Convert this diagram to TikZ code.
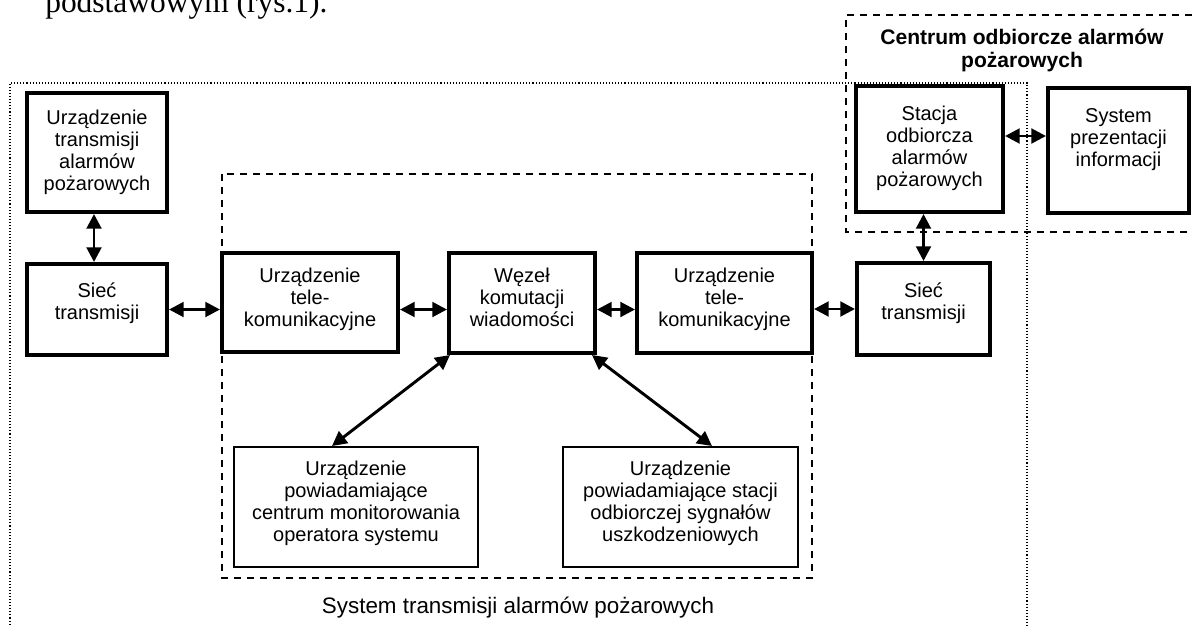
\documentclass[tikz,border=0pt]{standalone}
\usepackage{fontspec}
\setmainfont{Liberation Sans}
\newfontfamily\serifx{Liberation Serif}
\usetikzlibrary{arrows.meta,fit,calc}
\begin{document}
\begin{tikzpicture}[x=0.75pt,y=-0.75pt,
  every node/.style={font=\fontsize{15}{16.5}\selectfont},
  tbox/.style={draw, line width=3pt, inner sep=0pt},
  nbox/.style={draw, line width=1.5pt, inner sep=0pt},
  lbl/.style={align=center, anchor=north, inner sep=0pt},
  arr/.style={line width=2.2pt, {Triangle[length=11pt,width=11pt]}-{Triangle[length=11pt,width=11pt]}},
  dashbox/.style={line width=1.5pt, dash pattern=on 5.25pt off 4.5pt},
  dotbox/.style={line width=0.9pt, dash pattern=on 0.8pt off 1.5pt},
]
\useasboundingbox (0,0) rectangle (1192,626);

% clipped line of text above the figure
\node[font=\serifx\fontsize{23.6}{26}\selectfont, anchor=base west, inner sep=0pt] (head) at (45,12) {podstawowym (rys.1).};

% frames
\draw[dotbox] (10,640) -- (10,83) -- (1027,83) -- (1027,640);
\draw[dashbox] (1200,232) -- (846,232) -- (846,15) -- (1200,15);
\draw[dashbox] (222,174) rectangle (812,578);

% boxes
\node[tbox, fit={(27,93) (167,212)}] (A) {};
\node[tbox, fit={(27,264) (167,355)}] (B) {};
\node[tbox, fit={(222,253) (398,352)}] (C) {};
\node[tbox, fit={(449,253) (595,353)}] (D) {};
\node[tbox, fit={(637,253) (812,353)}] (E) {};
\node[tbox, fit={(857,263) (990,355)}] (F) {};
\node[tbox, fit={(856,86) (1003,212)}] (G) {};
\node[tbox, fit={(1048,88) (1189,213)}] (H) {};
\node[nbox, fit={(234,447) (478,567)}] (I) {};
\node[nbox, fit={(563,447) (798,567)}] (J) {};

% texts
\node[lbl] (tA) at (97,110) {Urządzenie\\transmisji\\alarmów\\pożarowych};
\node[lbl] (tB) at (97,282) {Sieć\\transmisji};
\node[lbl] (tC) at (310,268) {Urządzenie\\tele-\\komunikacyjne};
\node[lbl] (tD) at (522,268) {Węzeł\\komutacji\\wiadomości};
\node[lbl] (tE) at (724.5,268) {Urządzenie\\tele-\\komunikacyjne};
\node[lbl] (tF) at (923.5,282) {Sieć\\transmisji};
\node[lbl] (tG) at (929.5,106) {Stacja\\odbiorcza\\alarmów\\pożarowych};
\node[lbl] (tH) at (1118.5,108) {System\\prezentacji\\informacji};
\node[lbl] (tI) at (356,461) {Urządzenie\\powiadamiające\\centrum monitorowania\\operatora systemu};
\node[lbl] (tJ) at (680.5,461) {Urządzenie\\powiadamiające stacji\\odbiorczej sygnałów\\uszkodzeniowych};

\node[lbl, font=\bfseries\fontsize{15.8}{17.25}\selectfont] (title) at (1022,29) {Centrum odbiorcze alarmów\\pożarowych};
\node[anchor=center, inner sep=0pt, font=\fontsize{16.8}{19}\selectfont] (sys) at (518,608) {System transmisji alarmów pożarowych};

% connectors
\draw[arr] ([xshift=-2.25pt]A.south) -- ([xshift=-2.25pt]B.north);
\draw[arr] (B.east) -- (B.east -| C.west);
\draw[arr] (C.east |- B.east) -- (D.west |- B.east);
\draw[arr] (D.east |- B.east) -- (E.west |- B.east);
\draw[arr] (E.east |- F.west) -- (F.west);
\draw[arr] (F.north) -- (F.north |- G.south);
\draw[arr] ([yshift=9.75pt]G.east) -- ([yshift=9.75pt]G.east -| H.west);
\draw[arr] ([xshift=2.25pt]D.south west) -- ([xshift=-18pt]I.north);
\draw[arr] ([xshift=-3.75pt]D.south east) -- ([xshift=23.6pt]J.north);
\end{tikzpicture}
\end{document}
